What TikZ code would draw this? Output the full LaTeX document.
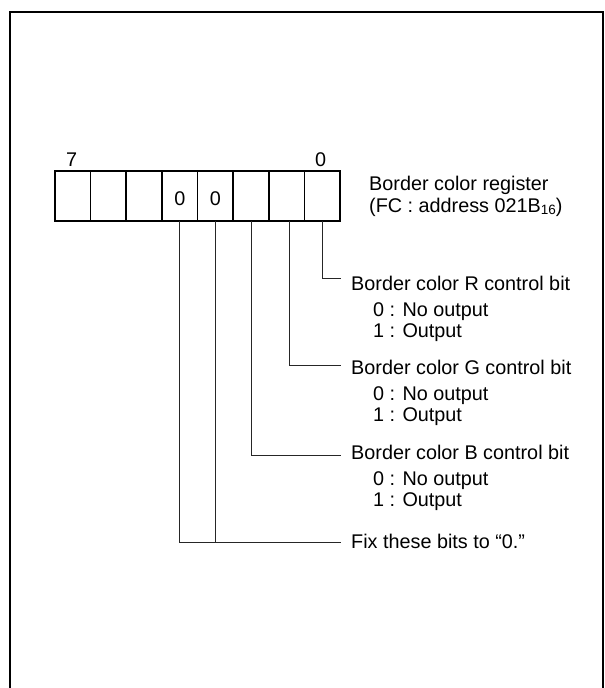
\documentclass[tikz,border=0pt]{standalone}
\usepackage{fontspec}
\setmainfont{Liberation Sans}
\begin{document}
\begin{tikzpicture}[x=1pt,y=-1pt,
  cell/.style={draw,line width=1.6pt,minimum width=35.6pt,minimum height=50pt,inner sep=0pt,outer sep=0pt},
  txt/.style={inner sep=0pt,anchor=base west,font=\fontsize{19.8}{24}\selectfont},
  lbl/.style={inner sep=0pt,anchor=base,font=\fontsize{19.8}{24}\selectfont},
  conn/.style={line width=0.8pt,black!85}]
\useasboundingbox (0,0) rectangle (605,688);
\draw[line width=2.4pt] (10,689) -- (10,12) -- (603,12) -- (603,689);
% register cells
\foreach \i/\n in {0/c7,1/c6,2/c5,3/c4,4/c3,5/c2,6/c1,7/c0}{
  \node[cell] (\n) at ({55+35.625*(\i+0.5)},195.7) {};
}
\node[lbl] (z4) at (180,205) {0};
\node[lbl] (z3) at (215.5,205) {0};
\node[lbl] (b7) at (71.7,166) {7};
\node[lbl] (b0) at (320.7,166) {0};
\node[txt] (reg1) at (369,190.7) {Border color register};
\node[txt] (reg2) at (369,212.7) {(FC : address 021B\raisebox{-1.5pt}{\fontsize{13.5}{14}\selectfont 16})};
% texts
\node[txt] (rt) at (351,290) {Border color R control bit};
\node[txt] (r0) at (373,316) {0 : No output};
\node[txt] (r1) at (373,337.5) {1 : Output};
\node[txt] (gt) at (351,374.3) {Border color G control bit};
\node[txt] (g0) at (373,400.3) {0 : No output};
\node[txt] (g1) at (373,421.8) {1 : Output};
\node[txt] (bt) at (351,459.3) {Border color B control bit};
\node[txt] (bb0) at (373,485.3) {0 : No output};
\node[txt] (bb1) at (373,506.8) {1 : Output};
\node[txt] (ft) at (351,548.3) {Fix these bits to “0.”};
% connector ends
\coordinate (rEnd) at (340.7,278.3);
\coordinate (gEnd) at (340.7,365.7);
\coordinate (bEnd) at (340.7,455);
\coordinate (fEnd) at (340.7,542.7);
\draw[conn] (c0.south) |- (rEnd);
\draw[conn] ([xshift=3pt]c1.south) |- (gEnd);
\draw[conn] (c2.south) |- (bEnd);
\draw[conn] (c4.south) |- (fEnd);
\draw[conn] (c3.south) -- (c3.south |- fEnd);
\end{tikzpicture}
\end{document}
